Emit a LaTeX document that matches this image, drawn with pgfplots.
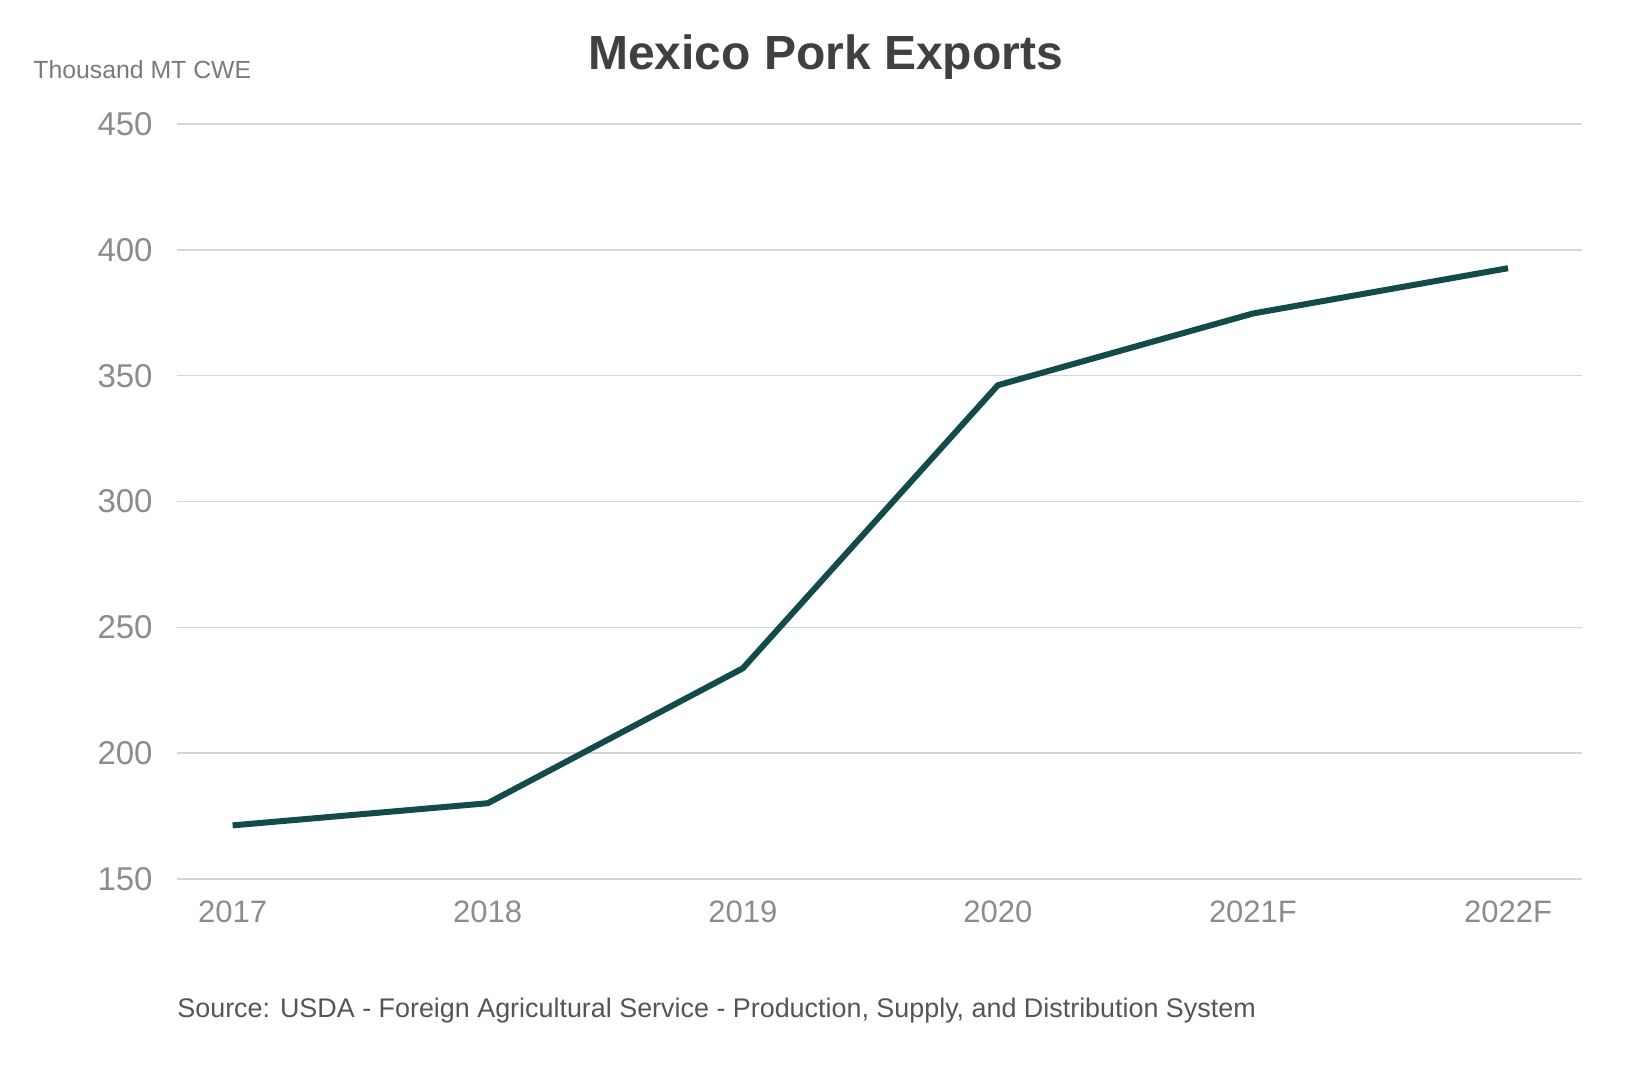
\documentclass[border=0pt]{standalone}
\usepackage{fontspec}
\setmainfont{Liberation Sans}
\usepackage{pgfplots}
\pgfplotsset{compat=1.18}
\definecolor{titlegray}{HTML}{404040}
\definecolor{tickgray}{HTML}{8C8C8C}
\definecolor{unitgray}{HTML}{7A7A7A}
\definecolor{srcgray}{HTML}{555555}
\definecolor{gridgray}{HTML}{D6D6D6}
\definecolor{teal}{HTML}{134A4A}
\begin{document}
\begin{tikzpicture}
\path[use as bounding box] (0,0) rectangle (825.5pt,537.5pt);
\begin{axis}[
  at={(88.5pt,98pt)}, anchor=south west,
  scale only axis, width=702.5pt, height=377.5pt,
  xmin=-0.218, xmax=5.29, ymin=150, ymax=450,
  xtick={0,1,2,3,4,5},
  xticklabels={2017,2018,2019,2020,2021F,2022F},
  ytick={150,200,250,300,350,400,450},
  ymajorgrids, grid style={gridgray, line width=0.8pt},
  axis line style={draw=none},
  major tick length=0pt,
  tick style={draw=none},
  /pgf/number format/assume math mode=true,
  xticklabel style={font=\fontsize{15.5}{18}\selectfont, text=tickgray, anchor=base, yshift=-22pt},
  yticklabel style={font=\fontsize{16.5}{19}\selectfont, text=tickgray, anchor=east, inner sep=0pt, xshift=-12pt},
  clip=false,
]
\addplot[teal, line width=3pt, line join=round] coordinates {
  (0,171.3) (1,180.1) (2,233.7) (3,346.2) (4,374.7) (5,392.7)
};
\end{axis}
\node[anchor=base, text=titlegray, font=\fontsize{24}{28}\selectfont\bfseries, inner sep=0pt] at (412.75pt,502.75pt) {Mexico Pork Exports};
\node[anchor=base west, text=unitgray, font=\fontsize{12.4}{15}\selectfont, inner sep=0pt] at (16.5pt,498pt) {Thousand MT CWE};
\node[anchor=base west, text=srcgray, font=\fontsize{13.45}{16}\selectfont, inner sep=0pt] at (88.5pt,28.5pt) {Source: USDA - Foreign Agricultural Service - Production, Supply, and Distribution System};
\end{tikzpicture}
\end{document}
